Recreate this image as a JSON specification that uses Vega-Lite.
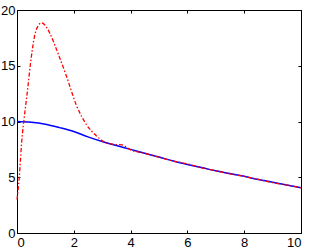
{
  "$schema": "https://vega.github.io/schema/vega-lite/v6.json",
  "width": 284,
  "height": 223,
  "autosize": {"type": "none"},
  "padding": {"left": 17, "top": 10, "right": 10, "bottom": 18},
  "background": "white",
  "config": {
    "view": {"stroke": "black", "strokeWidth": 1},
    "axis": {
      "grid": false,
      "domainColor": "black",
      "tickColor": "black",
      "labelColor": "black",
      "labelFont": "Liberation Sans",
      "labelFontSize": 13,
      "tickSize": -3,
      "title": null
    },
    "axisX": {"labelPadding": 6},
    "axisY": {"labelPadding": 5}
  },
  "data": {
    "values": [
      {"x": 0, "y": 10, "s": "b"},
      {"x": 0.5, "y": 9.93, "s": "b"},
      {"x": 1, "y": 9.75, "s": "b"},
      {"x": 1.5, "y": 9.45, "s": "b"},
      {"x": 2, "y": 9.1, "s": "b"},
      {"x": 2.5, "y": 8.62, "s": "b"},
      {"x": 3, "y": 8.2, "s": "b"},
      {"x": 3.5, "y": 7.85, "s": "b"},
      {"x": 4, "y": 7.5, "s": "b"},
      {"x": 4.5, "y": 7.15, "s": "b"},
      {"x": 5, "y": 6.82, "s": "b"},
      {"x": 5.5, "y": 6.45, "s": "b"},
      {"x": 6, "y": 6.15, "s": "b"},
      {"x": 6.5, "y": 5.87, "s": "b"},
      {"x": 7, "y": 5.58, "s": "b"},
      {"x": 7.5, "y": 5.33, "s": "b"},
      {"x": 8, "y": 5.08, "s": "b"},
      {"x": 8.5, "y": 4.8, "s": "b"},
      {"x": 9, "y": 4.55, "s": "b"},
      {"x": 9.5, "y": 4.3, "s": "b"},
      {"x": 10, "y": 4.05, "s": "b"},
      {"x": 0, "y": 3.0, "s": "r"},
      {"x": 0.08, "y": 5.0, "s": "r"},
      {"x": 0.16, "y": 8.0, "s": "r"},
      {"x": 0.28, "y": 10.9, "s": "r"},
      {"x": 0.37, "y": 12.8, "s": "r"},
      {"x": 0.48, "y": 15.3, "s": "r"},
      {"x": 0.63, "y": 17.8, "s": "r"},
      {"x": 0.75, "y": 18.6, "s": "r"},
      {"x": 0.86, "y": 18.85, "s": "r"},
      {"x": 1.0, "y": 18.6, "s": "r"},
      {"x": 1.16, "y": 17.9, "s": "r"},
      {"x": 1.4, "y": 16.4, "s": "r"},
      {"x": 1.75, "y": 14.0, "s": "r"},
      {"x": 2.1, "y": 11.4, "s": "r"},
      {"x": 2.45, "y": 9.7, "s": "r"},
      {"x": 2.8, "y": 8.7, "s": "r"},
      {"x": 3.05, "y": 8.2, "s": "r"},
      {"x": 3.4, "y": 7.95, "s": "r"},
      {"x": 3.7, "y": 7.9, "s": "r"},
      {"x": 4, "y": 7.45, "s": "r"},
      {"x": 4.5, "y": 7.15, "s": "r"},
      {"x": 5, "y": 6.8, "s": "r"},
      {"x": 5.5, "y": 6.45, "s": "r"},
      {"x": 6, "y": 6.2, "s": "r"},
      {"x": 6.5, "y": 5.85, "s": "r"},
      {"x": 7, "y": 5.58, "s": "r"},
      {"x": 7.5, "y": 5.3, "s": "r"},
      {"x": 8, "y": 5.08, "s": "r"},
      {"x": 8.5, "y": 4.8, "s": "r"},
      {"x": 9, "y": 4.52, "s": "r"},
      {"x": 9.5, "y": 4.3, "s": "r"},
      {"x": 10, "y": 4.05, "s": "r"}
    ]
  },
  "layer": [
    {
      "transform": [{"filter": "datum.s === 'b'"}],
      "mark": {"type": "line", "color": "#0000ff", "strokeWidth": 1.5, "interpolate": "monotone"},
      "encoding": {
        "x": {"field": "x", "type": "quantitative", "scale": {"domain": [0, 10], "nice": false},
              "axis": {"orient": "bottom", "values": [0, 2, 4, 6, 8, 10]}},
        "y": {"field": "y", "type": "quantitative", "scale": {"domain": [0, 20], "nice": false},
              "axis": {"orient": "left", "values": [0, 5, 10, 15, 20]}}
      }
    },
    {
      "transform": [{"filter": "datum.s === 'r'"}],
      "mark": {"type": "line", "color": "#ff0000", "strokeWidth": 1.3, "strokeDash": [4, 2, 1.5, 2], "interpolate": "monotone"},
      "encoding": {
        "x": {"field": "x", "type": "quantitative",
              "axis": {"orient": "top", "values": [0, 2, 4, 6, 8, 10], "labels": false}},
        "y": {"field": "y", "type": "quantitative",
              "axis": {"orient": "right", "values": [0, 5, 10, 15, 20], "labels": false}}
      }
    }
  ]
}
